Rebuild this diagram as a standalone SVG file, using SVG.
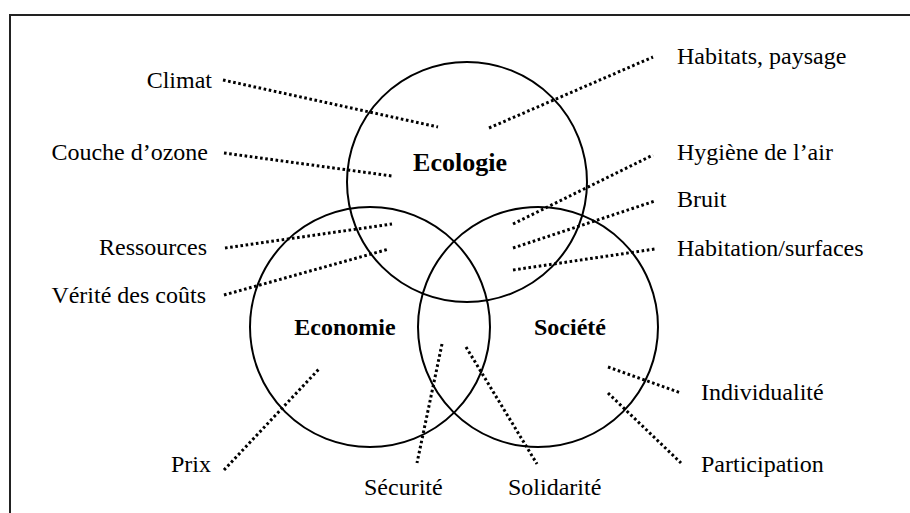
<svg xmlns="http://www.w3.org/2000/svg" width="910" height="513" viewBox="0 0 910 513">
<style>
.frame{fill:none;stroke:#222;stroke-width:2}
.c{fill:none;stroke:#000;stroke-width:2}
.d{fill:none;stroke:#000;stroke-width:3;stroke-dasharray:2.6 2.6}
.t{font-family:"Liberation Serif","Times New Roman",serif;font-size:24px;fill:#000}
.b{font-family:"Liberation Serif","Times New Roman",serif;font-size:24px;font-weight:bold;fill:#000}
.r{text-anchor:end}
</style>
<rect width="910" height="513" fill="#fff"/>
<path class="frame" d="M10,513 V15 H910"/>
<g id="ecologie">
<circle class="c" cx="467" cy="182" r="120"/>
<text class="b" x="460" y="171" text-anchor="middle" style="font-size:26px">Ecologie</text>
</g>
<g id="economie">
<circle class="c" cx="370" cy="327" r="120"/>
<text class="b" x="345" y="335" text-anchor="middle">Economie</text>
</g>
<g id="societe">
<circle class="c" cx="538" cy="327" r="120"/>
<text class="b" x="570" y="335" text-anchor="middle">Société</text>
</g>
<g id="connectors">
<line class="d" x1="223" y1="80" x2="438" y2="127"/>
<line class="d" x1="224" y1="153" x2="392" y2="176"/>
<line class="d" x1="489" y1="128" x2="653" y2="57"/>
<line class="d" x1="513" y1="224" x2="653" y2="155"/>
<line class="d" x1="513" y1="248" x2="655" y2="201"/>
<line class="d" x1="513" y1="270" x2="655" y2="249"/>
<line class="d" x1="225" y1="248" x2="392" y2="224"/>
<line class="d" x1="224" y1="295" x2="389" y2="249"/>
<line class="d" x1="224" y1="470" x2="319" y2="369"/>
<line class="d" x1="442" y1="344" x2="417" y2="463"/>
<line class="d" x1="466" y1="347" x2="537" y2="464"/>
<line class="d" x1="608" y1="367" x2="681" y2="393"/>
<line class="d" x1="608" y1="393" x2="681" y2="463"/>
</g>
<g id="labels">
<text class="t r" x="212" y="88">Climat</text>
<text class="t r" x="208" y="160">Couche d’ozone</text>
<text class="t r" x="207" y="255">Ressources</text>
<text class="t r" x="206" y="303">Vérité des coûts</text>
<text class="t r" x="211" y="472">Prix</text>
<text class="t" x="677" y="64">Habitats, paysage</text>
<text class="t" x="677" y="160">Hygiène de l’air</text>
<text class="t" x="677" y="207">Bruit</text>
<text class="t" x="677" y="256">Habitation/surfaces</text>
<text class="t" x="701" y="400">Individualité</text>
<text class="t" x="701" y="472">Participation</text>
<text class="t" x="364" y="495">Sécurité</text>
<text class="t" x="508" y="495">Solidarité</text>
</g>
</svg>
